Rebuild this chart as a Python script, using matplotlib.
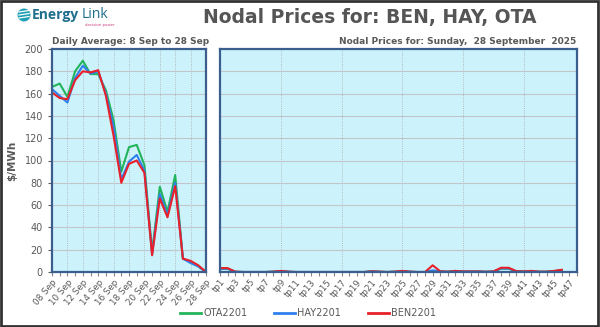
import matplotlib
matplotlib.use("Agg")
import matplotlib.pyplot as plt
from matplotlib.patches import Rectangle, Ellipse
from matplotlib.lines import Line2D

days = ["08 Sep", "09 Sep", "10 Sep", "11 Sep", "12 Sep", "13 Sep", "14 Sep", "15 Sep",
        "16 Sep", "17 Sep", "18 Sep", "19 Sep", "20 Sep", "21 Sep", "22 Sep", "23 Sep",
        "24 Sep", "25 Sep", "26 Sep", "27 Sep", "28 Sep"]
ota_daily = [166, 169, 157, 180, 189.5, 177.5, 177.5, 163, 136, 90, 112, 114, 96, 18, 76.5, 54, 87, 12, 9, 5, 0]
hay_daily = [164, 158, 152, 174, 185, 178, 180, 160, 130, 83, 99, 105, 91, 16, 70, 51, 80, 12, 8, 5, 0]
ben_daily = [161, 156, 155, 172, 180, 179, 181, 158, 122, 80, 97, 100, 89, 15, 66, 49, 77, 12, 10, 6, 0]

tps = ["tp%d" % i for i in range(1, 49)]
ben_tp = [3.5, 3.5, 0.3, 0, 0, 0, 0, 0.3, 1, 0.3, 0, 0, 0, 0, 0, 0, 0, 0, 0, 0,
          0.6, 0.3, 0, 0.3, 1, 0.3, 0, 0, 6, 0.6, 0.3, 1, 0.5, 0.5, 0.5, 0.2, 0.5, 3.8,
          3.8, 0.8, 0.5, 1, 0.3, 0.3, 1, 2]
hay_tp = [3.0, 3.0, 0.2, 0, 0, 0, 0, 0.2, 0.8, 0.2, 0, 0, 0, 0, 0, 0, 0, 0, 0, 0,
          0.5, 0.2, 0, 0.2, 0.8, 0.2, 0, 0, 1.5, 0.5, 0.2, 0.9, 0.4, 0.4, 0.4, 0.2, 0.4, 3.2,
          3.2, 0.6, 0.4, 0.9, 0.2, 0.2, 0.8, 1.6]
ota_tp = [2.8, 2.8, 0.2, 0, 0, 0, 0, 0.2, 0.8, 0.2, 0, 0, 0, 0, 0, 0, 0, 0, 0, 0,
          0.5, 0.2, 0, 0.2, 0.8, 0.2, 0, 0, 0.5, 0.5, 0.2, 0.9, 0.4, 0.4, 0.4, 0.2, 0.4, 3.0,
          3.0, 0.6, 0.4, 0.9, 0.2, 0.2, 0.8, 1.5]
series_names = ["OTA2201", "HAY2201", "BEN2201"]
colors = ["#22B45A", "#2F80ED", "#E8202A"]

W, H = 600, 327
fig = plt.figure(figsize=(6, 3.27), dpi=100)
fig.patch.set_facecolor("white")

def ax_rect(x0, y0, x1, y1):
    return [x0 / W, 1 - y1 / H, (x1 - x0) / W, (y1 - y0) / H]

def fx(px):
    return px / W

def fy(py):
    return 1 - py / H

bg = "#CCF3FC"
edge = "#3A5F8F"
gray = "#595959"

ax1 = fig.add_axes(ax_rect(52, 49, 206, 272))
ax2 = fig.add_axes(ax_rect(220, 49, 577, 272))

for ax in (ax1, ax2):
    ax.set_facecolor(bg)
    for s in ax.spines.values():
        s.set_color(edge)
        s.set_linewidth(1.6)
    ax.set_ylim(0, 200)
    ax.set_yticks(range(0, 201, 20))
    ax.grid(axis="y", color="#C2C6C8", linewidth=0.8, linestyle="-")
    ax.set_axisbelow(True)

# Left: daily averages
x1 = list(range(len(days)))
for vals, c in zip([ota_daily, hay_daily, ben_daily], colors):
    ax1.plot(x1, vals, color=c, linewidth=1.5)
ax1.set_xlim(0, len(days) - 1)
ax1.set_xticks(x1)
ax1.set_xticklabels([d if i % 2 == 0 else "" for i, d in enumerate(days)],
                    rotation=50, ha="right", rotation_mode="anchor", fontsize=6.3, color=gray)
for i in range(0, len(days), 2):
    ax1.axvline(i, color="#AAAAAA", linewidth=0.6, linestyle=":", zorder=0)
ax1.tick_params(axis="y", labelsize=7, colors=gray, length=3)
ax1.tick_params(axis="x", length=3, color="#888888", pad=1)
ax1.set_ylabel("$/MWh", fontsize=7.5, fontweight="bold", color=gray, labelpad=5)

# Right: trading periods
x2 = list(range(len(ben_tp)))
for vals, c in zip([ota_tp, hay_tp, ben_tp], colors):
    ax2.plot(x2, vals, color=c, linewidth=1.5)
ax2.set_xlim(0, len(tps) - 1)
ax2.set_xticks(range(len(tps)))
ax2.set_xticklabels([t if i % 2 == 0 else "" for i, t in enumerate(tps)],
                    rotation=50, ha="right", rotation_mode="anchor", fontsize=6.3, color=gray)
for i in range(8, len(tps), 8):
    ax2.axvline(i, color="#AAAAAA", linewidth=0.6, linestyle=":", zorder=0)
ax2.set_yticklabels([])
ax2.tick_params(axis="y", length=0)
ax2.tick_params(axis="x", length=3, color="#888888", pad=1)

# Titles
fig.text(fx(370), fy(18), "Nodal Prices for: BEN, HAY, OTA", ha="center", va="center",
         fontsize=13.5, fontweight="bold", color="#555555")
fig.text(fx(52), fy(41), "Daily Average: 8 Sep to 28 Sep", ha="left", va="center",
         fontsize=6.5, fontweight="bold", color=gray)
fig.text(fx(576), fy(41), "Nodal Prices for: Sunday,  28 September  2025", ha="right", va="center",
         fontsize=6.5, fontweight="bold", color=gray)

# Logo
fig.patches.append(Ellipse((fx(24), fy(15)), 13 / W, 13 / H, transform=fig.transFigure,
                           facecolor="#1E9FB5", edgecolor="none"))
for dy in (-3, 0, 3):
    fig.lines.append(Line2D([fx(19), fx(29)], [fy(15 + dy), fy(15 + dy - 1.5)],
                            transform=fig.transFigure, color="white", linewidth=0.9))
fig.text(fx(32), fy(15), "Energy", ha="left", va="center", fontsize=10, fontweight="bold",
         color="#1F6F8C", family="Open Sans")
fig.text(fx(82), fy(15), "Link", ha="left", va="center", fontsize=10,
         color="#1F6F8C", family="Open Sans")
fig.text(fx(85), fy(25), "decision power", ha="left", va="center", fontsize=2.8, color="#D04080")

# Legend (drawn manually at reference positions)
leg_x = [180, 274, 368]
for name, c, lx in zip(series_names, colors, leg_x):
    fig.lines.append(Line2D([fx(lx), fx(lx + 21)], [fy(313), fy(313)], transform=fig.transFigure,
                            color=c, linewidth=2))
    fig.text(fx(lx + 23), fy(313), name, ha="left", va="center", fontsize=7, color=gray)

# Figure border
fig.patches.append(Rectangle((0.002, 0.003), 0.995, 0.994, transform=fig.transFigure,
                             fill=False, edgecolor="#333333", linewidth=2))

fig.savefig("out.png", dpi=100)
